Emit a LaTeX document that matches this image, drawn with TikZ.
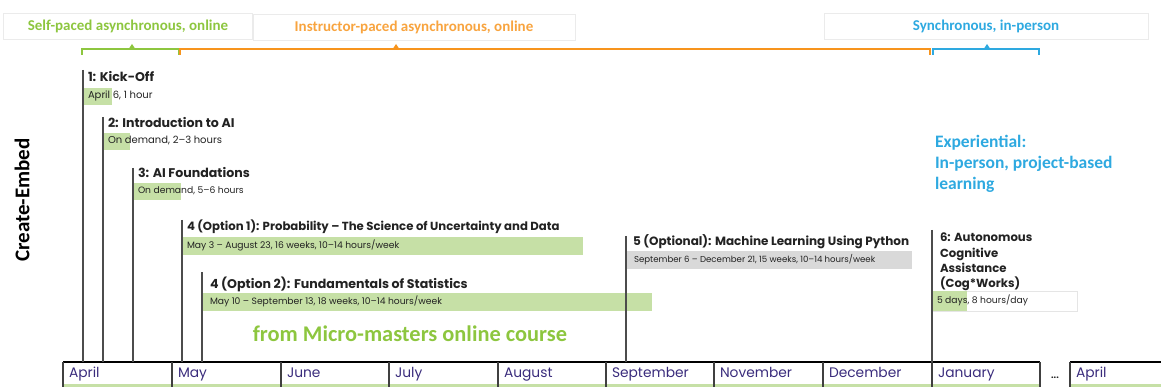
\documentclass[tikz,border=0pt]{standalone}
\usepackage{fontspec}
\setmainfont{Poppins}
\newfontfamily\labelfont{Carlito}
\usetikzlibrary{positioning}

\definecolor{selfgreen}{HTML}{8DC63F}
\definecolor{bargreen}{HTML}{C6E0A6}
\definecolor{instrorange}{HTML}{F7941D}
\definecolor{syncblue}{HTML}{2EA9E0}
\definecolor{monthblue}{HTML}{3A2C7C}
\definecolor{bargray}{HTML}{D9D9D9}
\definecolor{inkgray}{HTML}{222222}

\begin{document}
\begin{tikzpicture}[
        x=1pt, y=-1pt,
        every node/.style={inner sep=0pt, outer sep=0pt},
        title/.style={anchor=base west, text=inkgray, font=\fontsize{12.6}{15.5}\selectfont\bfseries},
        detail/.style={anchor=west, text=inkgray, text height=0.72em, text depth=0.22em, font=\fontsize{9.2}{11}\selectfont},
        bar/.style={anchor=north west, fill=bargreen, draw=none},
        graybar/.style={anchor=north west, fill=bargray, draw=none},
        startline/.style={draw=black!70, line width=1.1pt},
        toplabel/.style={draw=black!8, line width=0.6pt, minimum height=26, font=\labelfont\fontsize{15}{17}\selectfont\bfseries},
        bracket/.style={line width=2.4pt},
        month/.style={anchor=north west, minimum height=25},
        monthlbl/.style={anchor=west, text=monthblue, text height=0.72em, text depth=0.22em, font=\fontsize{13.8}{15}\selectfont},
        monthtop/.style={line width=2.4pt, black},
        divider/.style={line width=1.1pt, black!75}
    ]
        \useasboundingbox (0,0) rectangle (1161,387);

        % Top labels
        \node[toplabel, text=selfgreen, minimum width=249] (selfpaced) at (128,26) {Self-paced asynchronous, online};
        \node[toplabel, text=instrorange!85, minimum width=322] (instrpaced) at (414,27) {Instructor-paced asynchronous, online};
        \node[toplabel, text=syncblue, minimum width=324] (syncperson) at (986,26.5) {Synchronous, in-person};

        % Brackets
        \draw[bracket, selfgreen] (82,55) -- (82,49) -- (179,49) -- (179,55);
        \fill[selfgreen] (128,50) -- (132,44) -- (136,50) -- cycle;
        \draw[bracket, instrorange] (180,55) -- (180,49) -- (930,49) -- (930,55);
        \fill[instrorange] (392,50) -- (396,44) -- (400,50) -- cycle;
        \draw[bracket, syncblue] (933,55) -- (933,49) -- (1039,49) -- (1039,55);
        \fill[syncblue] (983,50) -- (987,44) -- (991,50) -- cycle;

        % Side and free labels
        \node[rotate=90, font=\labelfont\fontsize{21}{23}\selectfont\bfseries] (createembed) at (22,200) {Create-Embed};
        \node[anchor=north west, align=left, text=syncblue, font=\labelfont\fontsize{17.5}{21}\selectfont\bfseries] (experiential) at (935,135) {Experiential:\\In-person, project-based\\learning};
        \node[text=selfgreen, font=\labelfont\fontsize{22.4}{24}\selectfont\bfseries] (micromasters) at (410,334) {from Micro-masters online course};

        % Months
        \node[month, minimum width=109] (apr) at (63,362) {};
        \node[month, minimum width=109] (may) at (172,362) {};
        \node[month, minimum width=108] (jun) at (281,362) {};
        \node[month, minimum width=109] (jul) at (389,362) {};
        \node[month, minimum width=108] (aug) at (498,362) {};
        \node[month, minimum width=108] (sep) at (606,362) {};
        \node[month, minimum width=109] (nov) at (714,362) {};
        \node[month, minimum width=109] (dec) at (823,362) {};
        \node[month, minimum width=108] (jan) at (932,362) {};
        \node[month, minimum width=91] (aprnext) at (1070,362) {};
        \node[monthlbl, right=6pt of apr.west] {April};
        \node[monthlbl, right=6pt of may.west] {May};
        \node[monthlbl, right=6pt of jun.west] {June};
        \node[monthlbl, right=6pt of jul.west] {July};
        \node[monthlbl, right=6pt of aug.west] {August};
        \node[monthlbl, right=6pt of sep.west] {September};
        \node[monthlbl, right=6pt of nov.west] {November};
        \node[monthlbl, right=6pt of dec.west] {December};
        \node[monthlbl, right=6pt of jan.west] {January};
        \node[monthlbl, right=6pt of aprnext.west] {April};
        \node[font=\fontsize{9}{10}\selectfont\bfseries, text=inkgray] (dots) at (1055,378) {...};

        \fill[bargreen] (apr.south west) ++(0,-3) rectangle (jan.south east);
        \fill[bargreen] (aprnext.south west) ++(0,-3) rectangle (aprnext.south east);
        \draw[monthtop] (apr.north west) -- (jan.north east);
        \draw[monthtop] (aprnext.north west) -- (aprnext.north east);
        \foreach \m in {apr, may, jun, jul, aug, sep, nov, dec, jan, aprnext}
            \draw[divider] (\m.north west) -- (\m.south west);
        \draw[divider] (jan.north east) -- (jan.south east);

        % Courses
        \coordinate (s1) at (83,70);
        \node[title] (t1) at (88,82) {1: Kick-Off};
        \node[bar, minimum width=29, minimum height=17] (b1) at (83,88) {};
        \node[detail, font=\fontsize{10}{11}\selectfont, right=5pt of b1.west] (d1) {April 6, 1 hour};

        \coordinate (s2) at (103,117);
        \node[title] (t2) at (108,128) {2: Introduction to AI};
        \node[bar, minimum width=27, minimum height=17] (b2) at (103,133) {};
        \node[detail, font=\fontsize{10}{11}\selectfont, right=5pt of b2.west] (d2) {On demand, 2--3 hours};

        \coordinate (s3) at (133,168);
        \node[title] (t3) at (138,178) {3: AI Foundations};
        \node[bar, minimum width=48, minimum height=17] (b3) at (133,183) {};
        \node[detail, right=5pt of b3.west] (d3) {On demand, 5--6 hours};

        \coordinate (s4a) at (182,220);
        \node[title, font=\fontsize{11.7}{14}\selectfont\bfseries] (t4a) at (187,231) {4 (Option 1): Probability -- The Science of Uncertainty and Data};
        \node[bar, minimum width=401, minimum height=18] (b4a) at (182,237) {};
        \node[detail, right=5pt of b4a.west] (d4a) {May 3 -- August 23, 16 weeks, 10--14 hours/week};

        \coordinate (s4b) at (202,272);
        \node[title] (t4b) at (210,288) {4 (Option 2): Fundamentals of Statistics};
        \node[bar, minimum width=450, minimum height=18] (b4b) at (202,293) {};
        \node[detail, right=8pt of b4b.west] (d4b) {May 10 -- September 13, 18 weeks, 10--14 hours/week};

        \coordinate (s5) at (626,236);
        \node[title, font=\fontsize{12}{14}\selectfont\bfseries] (t5) at (633,246) {5 (Optional): Machine Learning Using Python};
        \node[graybar, minimum width=286, minimum height=18] (b5) at (626,251) {};
        \node[detail, font=\fontsize{8.6}{10}\selectfont, right=8pt of b5.west] (d5) {September 6 -- December 21, 15 weeks, 10--14 hours/week};

        \coordinate (s6) at (932,230);
        \node[title, font=\fontsize{11.7}{15.4}\selectfont\bfseries, anchor=north west, align=left] (t6) at (940,233) {6: Autonomous\\Cognitive\\Assistance\\(Cog*Works)};
        \node[anchor=north west, draw=black!10, fill=white, minimum width=145, minimum height=20] (b6box) at (932,291) {};
        \node[bar, minimum width=35, minimum height=20] (b6) at (932,291) {};
        \node[detail, right=5pt of b6.west] (d6) {5 days, 8 hours/day};

        % Start lines
        \draw[startline] (s1) -- (s1 |- apr.north);
        \draw[startline] (s2) -- (s2 |- apr.north);
        \draw[startline] (s3) -- (s3 |- apr.north);
        \draw[startline] (s4a) -- (s4a |- may.north);
        \draw[startline] (s4b) -- (s4b |- may.north);
        \draw[startline] (s5) -- (s5 |- sep.north);
        \draw[startline] (s6) -- (s6 |- jan.north);
    \end{tikzpicture}
\end{document}
